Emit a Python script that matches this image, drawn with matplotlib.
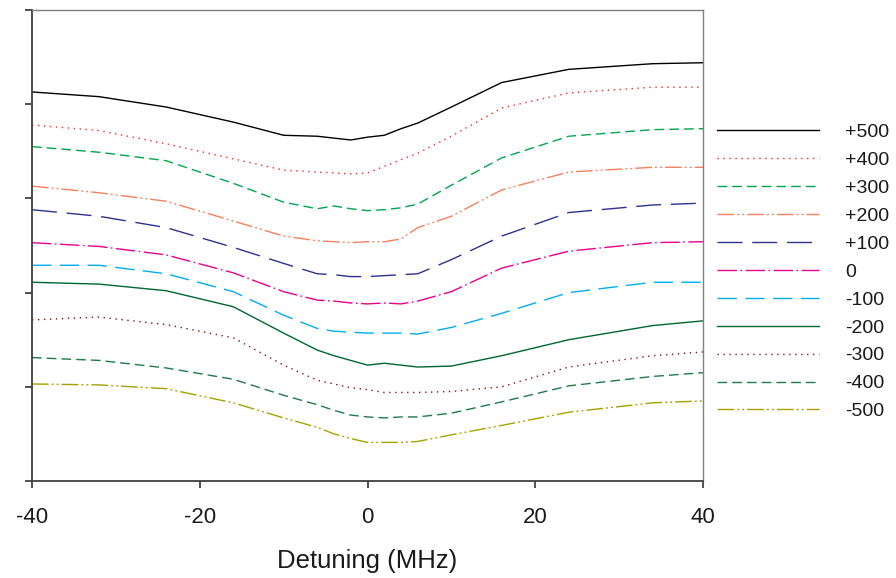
import matplotlib
matplotlib.use('Agg')
import matplotlib.pyplot as plt

plt.rcParams['font.family'] = ['Liberation Sans', 'DejaVu Sans']
plt.rcParams['lines.scale_dashes'] = False
plt.rcParams['axes.unicode_minus'] = False

# detuning points (MHz)
detuning = [-40, -32, -24, -16, -10, -6, -4, -2, 0, 2, 4, 6, 10, 16, 24, 34, 40]

# signal (arb. units), one trace per offset
p500 = [4.13, 4.08, 3.97, 3.81, 3.67, 3.66, 3.64, 3.62, 3.65, 3.67, 3.74, 3.80, 3.97, 4.23, 4.37, 4.43, 4.44]
p400 = [3.78, 3.72, 3.58, 3.42, 3.30, 3.28, 3.27, 3.26, 3.27, 3.34, 3.41, 3.48, 3.66, 3.96, 4.12, 4.18, 4.18]
p300 = [3.55, 3.49, 3.40, 3.16, 2.96, 2.89, 2.92, 2.89, 2.87, 2.88, 2.90, 2.94, 3.14, 3.43, 3.66, 3.73, 3.74]
p200 = [3.13, 3.06, 2.97, 2.76, 2.60, 2.55, 2.54, 2.53, 2.54, 2.54, 2.57, 2.69, 2.81, 3.09, 3.28, 3.33, 3.33]
p100 = [2.88, 2.81, 2.69, 2.48, 2.31, 2.20, 2.19, 2.17, 2.17, 2.18, 2.19, 2.20, 2.35, 2.60, 2.85, 2.93, 2.95]
z000 = [2.53, 2.49, 2.40, 2.21, 2.01, 1.92, 1.91, 1.89, 1.88, 1.89, 1.88, 1.91, 2.01, 2.26, 2.44, 2.53, 2.54]
m100 = [2.29, 2.29, 2.20, 2.01, 1.76, 1.62, 1.59, 1.58, 1.57, 1.57, 1.57, 1.56, 1.63, 1.78, 2.00, 2.11, 2.11]
m200 = [2.11, 2.09, 2.02, 1.85, 1.57, 1.39, 1.33, 1.28, 1.23, 1.25, 1.23, 1.21, 1.22, 1.33, 1.50, 1.65, 1.70]
m300 = [1.71, 1.74, 1.66, 1.52, 1.23, 1.07, 1.03, 0.99, 0.97, 0.94, 0.94, 0.94, 0.95, 1.00, 1.21, 1.33, 1.37]
m400 = [1.31, 1.28, 1.20, 1.08, 0.91, 0.81, 0.75, 0.70, 0.68, 0.67, 0.68, 0.68, 0.72, 0.84, 1.01, 1.11, 1.15]
m500 = [1.03, 1.02, 0.98, 0.83, 0.67, 0.57, 0.50, 0.45, 0.41, 0.41, 0.41, 0.42, 0.49, 0.59, 0.73, 0.83, 0.85]

labels = ['+500', '+400', '+300', '+200', '+100', '0', '-100', '-200', '-300', '-400', '-500']
series = [p500, p400, p300, p200, p100, z000, m100, m200, m300, m400, m500]

colors = ['#000000', '#ff2020', '#00a651', '#f7805c', '#2e3192', '#ec008c',
          '#00aeef', '#006633', '#8b1010', '#1f7a4a', '#a9a000']
dashdotdot = (0, (12, 2.2, 1.4, 2.2, 1.4, 2.2))
styles = ['-', (0, (1, 3.3)), (0, (7, 3.6)), dashdotdot, (0, (18, 7)),
          (0, (14, 2.5, 1.2, 2.5)), (0, (14, 6)), '-', (0, (1, 3.3)),
          (0, (7, 3.6)), dashdotdot]

fig = plt.figure(figsize=(8.96, 5.78), dpi=100)
ax = fig.add_axes([32/896, 1 - 481/578, (703 - 32)/896, (481 - 10)/578])

for y, lab, c, ls in zip(series, labels, colors, styles):
    ax.plot(detuning, y, color=c, linestyle=ls, linewidth=1.0, label=lab)

ax.set_xlim(-40, 40)
ax.set_ylim(0, 5)
ax.set_xticks([-40, -20, 0, 20, 40])
ax.set_yticks([0, 1, 2, 3, 4, 5])
ax.set_yticklabels([])
ax.tick_params(axis='both', direction='out', length=5, width=1.2, color='#333333')
ax.tick_params(axis='x', labelsize=16, pad=14, labelcolor='#1a1a1a')
for s in ['left', 'bottom']:
    ax.spines[s].set_color('#404040')
    ax.spines[s].set_linewidth(1.3)
for s in ['top', 'right']:
    ax.spines[s].set_color('#808080')
    ax.spines[s].set_linewidth(1.0)

ax.set_xlabel('Detuning (MHz)', fontsize=18.5, labelpad=15, color='#1a1a1a')

leg = ax.legend(loc='upper left', bbox_to_anchor=(717/896, 1 - 123.5/578),
                bbox_transform=fig.transFigure, frameon=False, fontsize=14,
                handlelength=5.26, handletextpad=1.34, labelspacing=0.53,
                borderaxespad=0, borderpad=0)
for t in leg.get_texts():
    t.set_color('#1a1a1a')

fig.savefig('out.png', dpi=100)
